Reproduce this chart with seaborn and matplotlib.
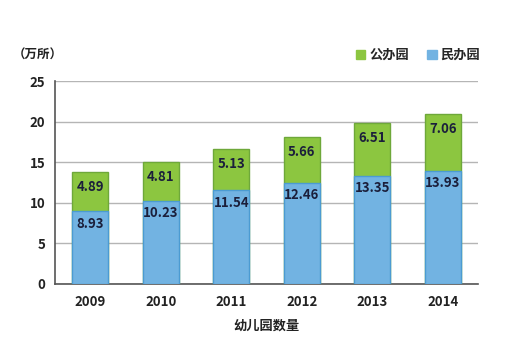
import pandas as pd
import matplotlib.pyplot as plt
import seaborn as sns

# Kindergarten counts (10k)
years = ['2009', '2010', '2011', '2012', '2013', '2014']
private = [8.93, 10.23, 11.54, 12.46, 13.35, 13.93]
public = [4.89, 4.81, 5.13, 5.66, 6.51, 7.06]

df = pd.DataFrame({'year': years, 'private': private, 'public': public})
df['total'] = df['private'] + df['public']

sns.set_style('white')
plt.rcParams['font.family'] = ['Noto Sans CJK SC', 'DejaVu Sans']

green = '#8cc640'
blue = '#72b3e2'

fig = plt.figure(figsize=(5.1, 3.54), dpi=100)
ax = fig.add_axes([0.108, 0.198, 0.829, 0.573])

sns.barplot(data=df, x='year', y='total', color=green, width=0.51,
            edgecolor='#6ea83a', linewidth=1.0, saturation=1, ax=ax, zorder=3)
sns.barplot(data=df, x='year', y='private', color=blue, width=0.51,
            edgecolor='#4b9bd2', linewidth=1.0, saturation=1, ax=ax, zorder=3)

# labels sit just inside the top of each segment
for i, row in df.iterrows():
    ax.annotate(f"{row['public']:.2f}", (i, row['total']), xytext=(0, -6),
                textcoords='offset points', ha='center', va='top',
                fontsize=9.5, fontweight='bold', color='#1b1f3b', zorder=5)
    ax.annotate(f"{row['private']:.2f}", (i, row['private']), xytext=(0, -4),
                textcoords='offset points', ha='center', va='top',
                fontsize=9.5, fontweight='bold', color='#1b1f3b', zorder=5)

ax.set_ylim(0, 25)
ax.set_yticks([0, 5, 10, 15, 20, 25])
ax.set_xlim(-0.5, 5.5)
ax.grid(axis='y', color='#b5b5b5', linewidth=1.0, zorder=0)
ax.set_axisbelow(True)

for s in ['top', 'right']:
    ax.spines[s].set_visible(False)
ax.spines['left'].set_color('#555555')
ax.spines['bottom'].set_color('#555555')
ax.spines['left'].set_linewidth(1.2)
ax.spines['bottom'].set_linewidth(1.2)
ax.tick_params(axis='y', length=4, width=1, color='#555555', labelsize=9.5, pad=3)
ax.tick_params(axis='x', length=0, labelsize=9.5, pad=8)
for lbl in ax.get_xticklabels() + ax.get_yticklabels():
    lbl.set_fontweight('bold')
    lbl.set_color('#222222')

ax.set_ylabel('')
ax.set_xlabel('幼儿园数量', fontsize=9.5, fontweight='bold', color='#222222', labelpad=7)
fig.text(0.075, 0.845, '（万所）', fontsize=9, fontweight='bold', color='#222222',
         ha='center', va='center')

handles = [plt.Rectangle((0, 0), 1, 1, color=green),
           plt.Rectangle((0, 0), 1, 1, color=blue)]
fig.legend(handles, ['公办园', '民办园'], loc='center', bbox_to_anchor=(0.82, 0.845),
           ncol=2, frameon=False, handlelength=0.7, handleheight=0.7,
           handletextpad=0.3, columnspacing=1.4, prop={'weight': 'bold', 'size': 9.5})

fig.savefig('out.png', dpi=100)
